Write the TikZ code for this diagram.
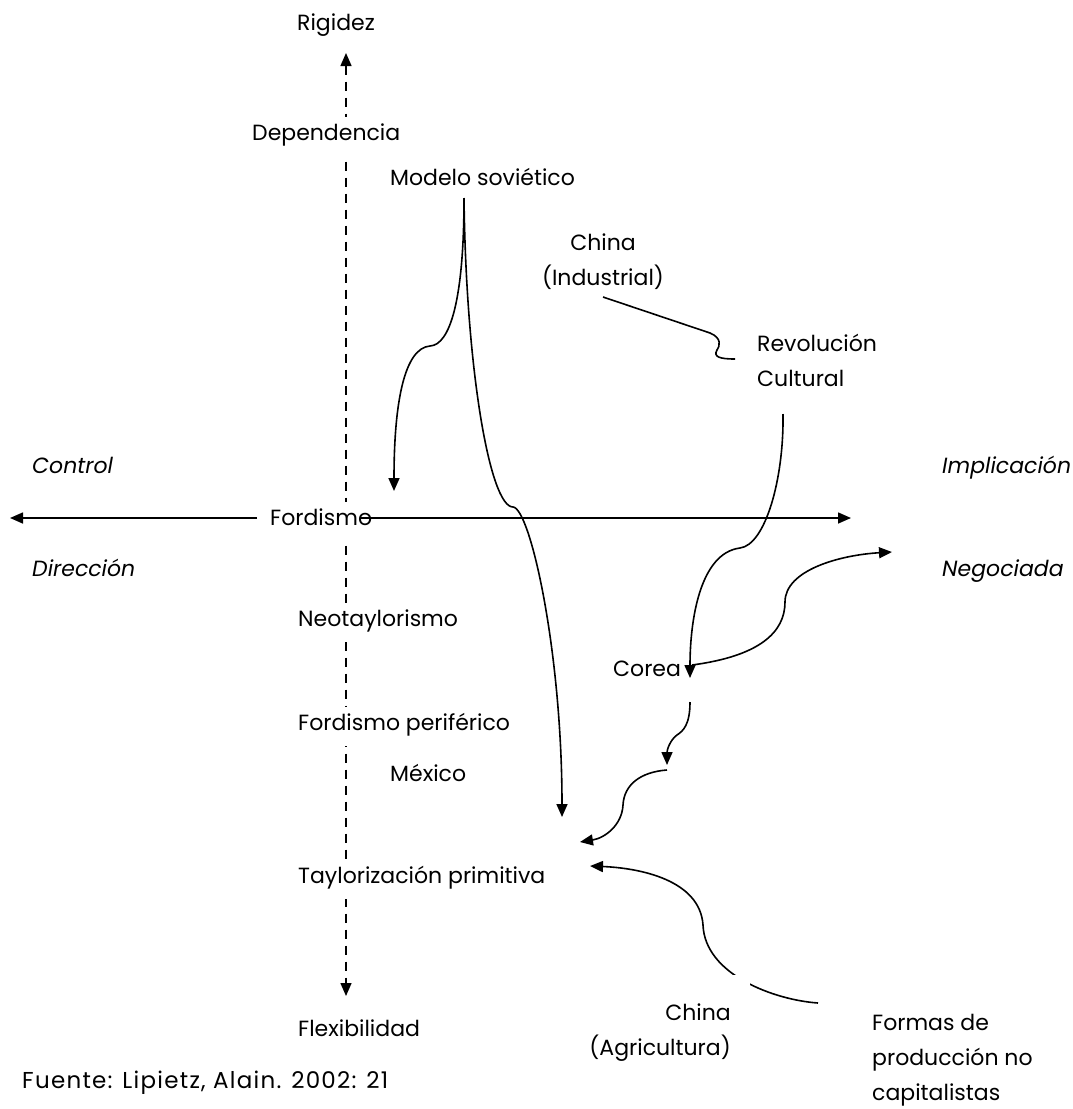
\documentclass[tikz,border=0pt]{standalone}
\usepackage{fontspec}
\setmainfont{Poppins}
\usetikzlibrary{arrows.meta}
\begin{document}
\begin{tikzpicture}[x=1pt,y=-1pt,
  lbl/.style={font=\fontsize{22}{35}\selectfont, inner sep=0pt, anchor=base west},
  ital/.style={lbl, font=\fontsize{22}{35}\selectfont\itshape},
  cover/.style={lbl, fill=white, inner xsep=3pt, inner ysep=0pt, text height=23pt, text depth=16pt},
  conn/.style={line width=1.6pt},
  tip/.style={-{Triangle[length=13pt,width=11pt]}},
  axis/.style={line width=1.4pt, dash pattern=on 9pt off 7pt}
]
\useasboundingbox (0,0) rectangle (1072,1109);

% vertical dashed axis (drawn first, labels cover it)
\coordinate (axTop) at (346,53);
\coordinate (axBot) at (346,996);
\draw[axis, {Triangle[length=13pt,width=11pt]}-{Triangle[length=13pt,width=11pt]}] (axTop) -- (axBot);

% labels
\node[lbl] (rig) at (297,30) {Rigidez};
\node[cover] (dep) at (249,140) {Dependencia};
\node[lbl] (mod) at (390,185) {Modelo soviético};
\node[lbl, anchor=base, align=center] (chi) at (603,285) {China\\(Industrial)};
\node[lbl, align=left] (rev) at (757,386) {Revolución\\Cultural};
\node[ital] (ctl) at (32,473) {Control};
\node[ital] (dir) at (32,576) {Dirección};
\node[ital] (imp) at (942,473) {Implicación};
\node[ital] (neg) at (942,576) {Negociada};
\node[cover] (ford) at (267,525) {Fordismo};
\node[cover] (neo) at (295,626) {Neotaylorismo};
\node[cover] (fper) at (295,730) {Fordismo periférico};
\node[lbl] (mex) at (390,781) {México};
\node[cover] (tay) at (295,883) {Taylorización primitiva};
\node[lbl] (cor) at (613,676) {Corea};
\node[lbl] (flex) at (298,1036) {Flexibilidad};
\node[lbl, font=\fontsize{23}{35}\selectfont\addfontfeature{LetterSpace=5.5}] (fue) at (22,1088) {Fuente: Lipietz, Alain. 2002: 21};
\node[lbl, align=left] (for) at (872,1100) {Formas de\\producción no\\capitalistas};

% horizontal axis
\coordinate (hL) at (10,518);
\coordinate (fL) at (257,518);
\coordinate (fR) at (360,518);
\coordinate (hR) at (851,518);
\draw[conn, tip] (fL) -- (hL);
\draw[conn, tip] (fR) -- (hR);

% Modelo sovietico branches
\coordinate (ms) at (464,198);
\coordinate (msL) at (394,491);
\coordinate (msR) at (562,817);
\draw[conn, tip] (ms) .. controls (464,300) and (450,345) .. (430,346)
  .. controls (405,348) and (394,400) .. (msL);
\draw[conn, tip] (ms) .. controls (466,370) and (490,507) .. (513,507)
  .. controls (530,508) and (562,650) .. (msR);

% China (Industrial) -> Revolucion Cultural
\coordinate (ciA) at (603,297);
\coordinate (ciB) at (735,359);
\draw[conn] (ciA) -- (710,333) .. controls (722,338) and (720,346) .. (717,350)
  .. controls (713,357) and (720,359) .. (ciB);

% Revolucion Cultural -> Corea
\coordinate (rcA) at (783,414);
\coordinate (rcB) at (690,678);
\draw[conn, tip] (rcA) .. controls (784,480) and (765,545) .. (740,548)
  .. controls (700,553) and (690,620) .. (rcB);

% Corea -> Negociada
\coordinate (coA) at (692,665);
\coordinate (coB) at (892,552);
\draw[conn, tip] (coA) .. controls (760,656) and (785,632) .. (785,602)
  .. controls (785,570) and (840,555) .. (coB);

% Corea -> down
\coordinate (cdA) at (690,702);
\coordinate (cdB) at (667,765);
\draw[conn, tip] (cdA) .. controls (690,725) and (683,731) .. (677,735)
  .. controls (670,740) and (667,750) .. (cdB);

% -> Taylorizacion primitiva
\coordinate (tdA) at (667,770);
\coordinate (tdB) at (580,842);
\draw[conn, tip] (tdA) .. controls (640,772) and (624,785) .. (623,805)
  .. controls (622,825) and (605,838) .. (tdB);

% Formas de produccion no capitalistas -> Taylorizacion primitiva
\coordinate (fpA) at (818,1003);
\coordinate (fpB) at (590,866);
\draw[conn, tip] (fpA) .. controls (775,1000) and (705,975) .. (703,925)
  .. controls (700,880) and (640,868) .. (fpB);

% China (Agricultura), white box makes the gap in the curve
\node[lbl, anchor=base east, align=right, fill=white, inner xsep=19pt, inner ysep=28pt] (cha) at (750,1055) {China\\(Agricultura)};

\end{tikzpicture}
\end{document}
